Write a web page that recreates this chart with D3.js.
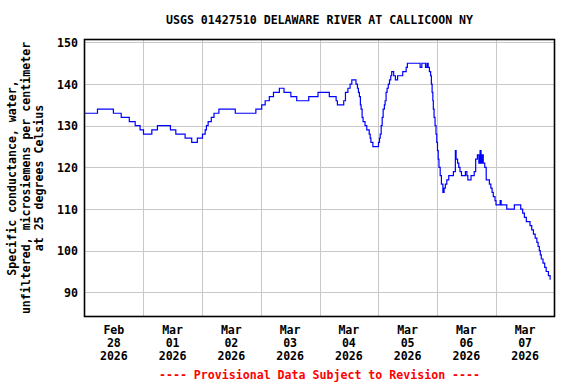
<!DOCTYPE html>
<html>
<head>
<meta charset="utf-8">
<script src="https://cdn.jsdelivr.net/npm/d3@7"></script>
<style>
  html, body { margin: 0; padding: 0; background: #fff; }
  svg { display: block; }
  text { font-family: "DejaVu Sans Mono", "Liberation Mono", monospace; font-weight: bold; }
</style>
</head>
<body>
<svg id="chart" width="576" height="384"></svg>
<script>
// ---- Data (hours after 2026-02-28 00:00 local, value at each step change) ----
const title = "USGS 01427510 DELAWARE RIVER AT CALLICOON NY";
const yLabelLines = ["Specific conductance, water,", "unfiltered, microsiemens per centimeter", "at 25 degrees Celsius"];
const footer = "---- Provisional Data Subject to Revision ----";
const yTicks = [90, 100, 110, 120, 130, 140, 150];
const xTickLabels = [["Feb","28","2026"],["Mar","01","2026"],["Mar","02","2026"],["Mar","03","2026"],["Mar","04","2026"],["Mar","05","2026"],["Mar","06","2026"],["Mar","07","2026"]];
const stepHours = [0,5.3,11.8,15.0,18.3,20.7,22.7,24.1,27.5,29.8,35.1,37.3,41.1,43.8,46.1,48.2,49.3,49.8,50.5,51.8,52.9,54.9,61.6,70.0,72.4,73.8,75.5,77.2,79.6,81.5,84.3,86.7,91.6,95.4,100.0,102.8,103.3,105.9,106.6,107.6,108.5,109.2,110.9,111.5,111.9,112.3,112.7,113.0,113.4,113.8,114.6,115.3,116.3,116.7,117.0,117.8,120.1,120.5,120.8,121.2,121.6,122.0,122.5,122.8,123.2,123.6,124.1,124.6,125.1,125.5,126.3,127.0,127.9,130.0,131.4,131.9,137.1,137.8,139.3,139.9,140.4,140.9,141.4,141.7,142.0,142.3,142.5,142.8,143.2,143.6,143.9,144.2,144.5,144.8,145.3,145.8,146.4,146.9,147.4,148.0,148.8,150.7,151.5,151.8,152.4,152.9,153.4,154.0,155.6,156.2,156.6,157.9,159.2,159.8,160.5,161.1,161.6,162.0,162.5,162.9,163.5,164.1,165.4,166.0,166.5,167.0,167.7,168.1,169.8,170.2,172.5,175.6,178.2,179.0,179.7,180.5,182.0,182.7,183.4,184.1,184.8,185.3,185.8,186.2,186.6,187.3,188.0,188.6,189.5,190.2];
const stepValues = [133,134,133,132,131,130,129,128,129,130,129,128,127,126,127,128,129,130,131,132,133,134,133,134,135,136,137,138,139,138,137,136,137,138,137,136,135,136,138,139,140,141,140,139,138,137,135,134,132,131,130,129,128,127,126,125,126,127,128,130,132,134,135,136,138,139,140,141,142,143,142,141,142,143,144,145,144,145,144,145,144,143,142,140,138,136,134,132,130,128,126,124,122,120,118,116,114,115,116,117,118,119,124,122,121,120,119,118,119,118,117,118,119,122,123,121,124,121,123,121,120,117,116,115,114,113,112,111,112,111,110,111,110,109,108,107,106,105,104,103,102,101,100,99,98,97,96,95,94,93];

// ---- Layout ----
const svg = d3.select("#chart");
const L = 84.5, R = 554.5, T = 39.5, B = 316.5;
const start = new Date(2026, 1, 28, 0, 0);
const end = new Date(2026, 2, 8, 0, 0);
const data = stepHours.map((h, i) => ({ t: new Date(start.getTime() + h * 3600e3), v: stepValues[i] }));

const x = d3.scaleTime().domain([start, end]).range([L, R]);
const y = d3.scaleLinear().domain([84.2, 150.7]).range([B, T]);

const days = d3.timeDay.range(start, end);

// gridlines
const grid = svg.append("g").attr("stroke", "#c8c8c8").attr("stroke-width", 1).attr("shape-rendering", "crispEdges");
grid.selectAll("line.h").data(yTicks).join("line")
  .attr("x1", L).attr("x2", R)
  .attr("y1", d => Math.round(y(d)) + 0.5).attr("y2", d => Math.round(y(d)) + 0.5);
grid.selectAll("line.v").data(days.slice(1)).join("line")
  .attr("y1", T).attr("y2", B)
  .attr("x1", d => Math.round(x(d)) + 0.5).attr("x2", d => Math.round(x(d)) + 0.5);

// line
const line = d3.line().x(d => x(d.t)).y(d => y(d.v)).curve(d3.curveStepAfter);
svg.append("path").datum(data)
  .attr("d", line)
  .attr("fill", "none").attr("stroke", "#0000ff").attr("stroke-width", 1.2);

// frame
svg.append("rect").attr("x", L).attr("y", T).attr("width", R - L).attr("height", B - T)
  .attr("fill", "none").attr("stroke", "#000").attr("stroke-width", 1.6);

// y tick labels
svg.append("g").selectAll("text").data(yTicks).join("text")
  .attr("x", 78).attr("y", d => y(d) + 4.5)
  .attr("text-anchor", "end").attr("font-size", "11.6px").attr("fill", "#000")
  .text(d => d);

// x tick labels (centered on noon of each day)
const xl = svg.append("g");
days.forEach((d, i) => {
  const cx = x(d3.timeHour.offset(d, 12));
  xTickLabels[i].forEach((s, j) => {
    xl.append("text").attr("x", cx).attr("y", 334 + j * 13)
      .attr("text-anchor", "middle").attr("font-size", "11.6px").attr("fill", "#000").text(s);
  });
});

// title
svg.append("text").attr("x", (L + R) / 2).attr("y", 24)
  .attr("text-anchor", "middle").attr("font-size", "11.6px").attr("fill", "#000").text(title);

// y axis label
const cy = (T + B) / 2;
yLabelLines.forEach((s, i) => {
  const bx = 16 + i * 13.5;
  svg.append("text").attr("transform", `translate(${bx},${cy}) rotate(-90)`)
    .attr("text-anchor", "middle").attr("font-size", "11.6px").attr("fill", "#000").text(s);
});

// footer
svg.append("text").attr("x", (L + R) / 2).attr("y", 379)
  .attr("text-anchor", "middle").attr("font-size", "11.6px").attr("fill", "#ff0000").text(footer);
</script>
</body>
</html>
